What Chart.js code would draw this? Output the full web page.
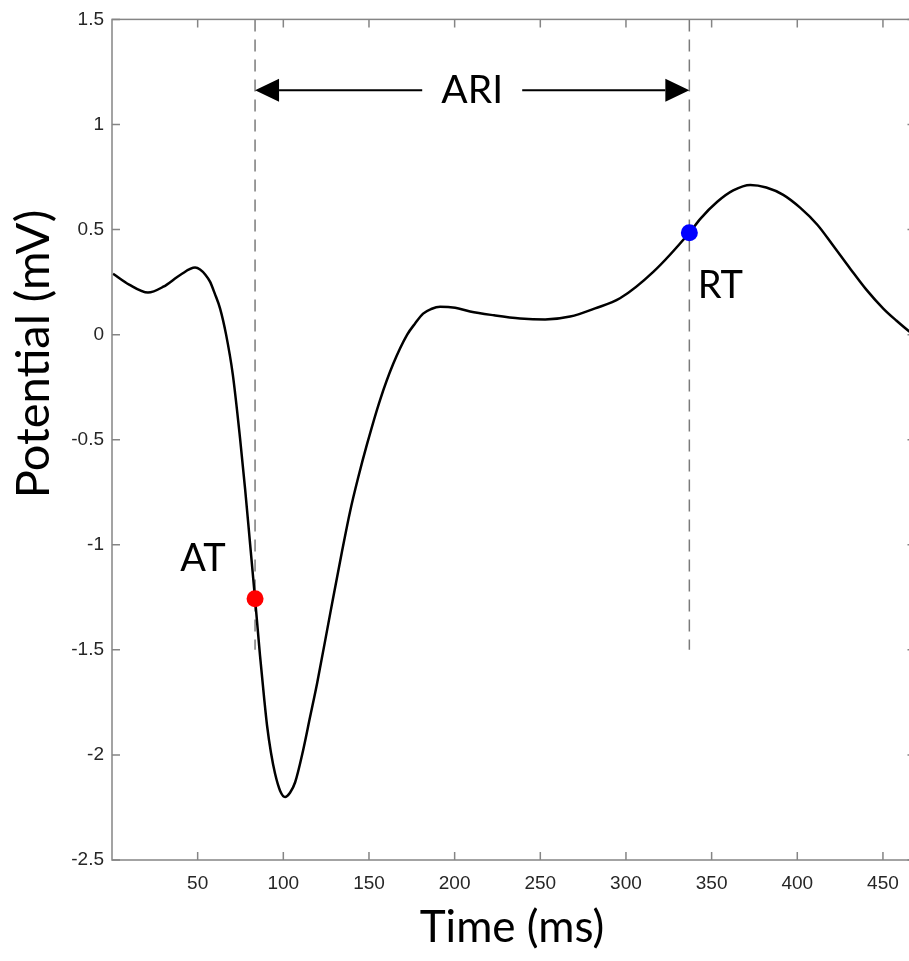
<!DOCTYPE html>
<html>
<head>
<meta charset="utf-8">
<script src="https://cdn.jsdelivr.net/npm/chart.js@4.4.1/dist/chart.umd.min.js"></script>
<style>
  html, body { margin: 0; padding: 0; background: #fff; overflow: hidden; }
  #wrap { width: 909px; height: 961px; overflow: hidden; }
  canvas { display: block; }
</style>
</head>
<body>
<div id="wrap"><canvas id="chart1" width="924" height="961"></canvas></div>
<script>
// unipolar electrogram, values
var timeMs = [0.6, 10, 21, 30, 40, 48.5, 51.4, 54.5, 57.2, 60, 63.1, 66.6, 70.5, 74.7, 77.7, 80.6, 83.5, 86.4, 88.8, 90.5, 92.8, 95.2, 98.1, 101, 103.9, 106.9, 111.5, 115.6, 119.7, 127.3, 134.3, 139, 143.7, 148.9, 156.5, 164.1, 172.3, 176.9, 181.6, 186.3, 191.5, 200.3, 209, 223, 238.2, 252.8, 267.4, 282, 296.5, 316.1, 337, 343.4, 353.3, 362.6, 372.6, 381.9, 391.8, 401.8, 411.7, 421, 430.9, 440.3, 450.2, 457.8, 465.4, 469];
var potential = [0.29, 0.238, 0.2, 0.228, 0.285, 0.319, 0.31, 0.285, 0.252, 0.195, 0.124, 0.0, -0.189, -0.49, -0.735, -0.996, -1.257, -1.527, -1.73, -1.86, -1.99, -2.09, -2.17, -2.2, -2.18, -2.13, -1.98, -1.82, -1.66, -1.33, -1.03, -0.84, -0.68, -0.52, -0.31, -0.14, 0.0, 0.053, 0.1, 0.122, 0.133, 0.128, 0.11, 0.092, 0.077, 0.072, 0.086, 0.125, 0.173, 0.3, 0.485, 0.551, 0.632, 0.686, 0.712, 0.7, 0.665, 0.603, 0.523, 0.423, 0.314, 0.214, 0.124, 0.067, 0.015, -0.005];

var xTicks = [50, 100, 150, 200, 250, 300, 350, 400, 450];
var yTicks = [-2.5, -2, -1.5, -1, -0.5, 0, 0.5, 1, 1.5];

var atTime = 83.5, atValue = -1.257;   // activation time
var rtTime = 337, rtValue = 0.485;     // repolarisation time
var dashTop = 1.5, dashBottom = -1.5;
var ariLevel = 1.163;

var axisGrey = '#858585';

// box round the plot + inward tick marks (matlab look)
var framePlugin = {
  id: 'frame',
  afterDraw: function(chart) {
    var ctx = chart.ctx, a = chart.chartArea;
    var xs = chart.scales.x, ys = chart.scales.y;
    ctx.save();
    ctx.strokeStyle = axisGrey;
    ctx.lineWidth = 1.5;
    ctx.strokeRect(a.left, a.top, a.right - a.left, a.bottom - a.top);
    ctx.beginPath();
    xTicks.forEach(function(v) {
      var px = xs.getPixelForValue(v);
      ctx.moveTo(px, a.bottom); ctx.lineTo(px, a.bottom - 8);
      ctx.moveTo(px, a.top); ctx.lineTo(px, a.top + 8);
    });
    yTicks.forEach(function(v) {
      var py = ys.getPixelForValue(v);
      ctx.moveTo(a.left, py); ctx.lineTo(a.left + 8, py);
      ctx.moveTo(a.right, py); ctx.lineTo(a.right - 8, py);
    });
    ctx.stroke();

    // axis titles
    ctx.fillStyle = '#000';
    ctx.textAlign = 'center';
    ctx.textBaseline = 'middle';
    ctx.font = '44px Lato';
    ctx.fillText('Time (ms)', 512, 928);
    ctx.font = '47px Lato';
    ctx.translate(34, 354);
    ctx.rotate(-Math.PI / 2);
    ctx.fillText('Potential (mV)', 0, 0);
    ctx.restore();
  }
};

// ARI arrow and AT / RT labels
var notePlugin = {
  id: 'notes',
  afterDatasetsDraw: function(chart) {
    var ctx = chart.ctx;
    var xs = chart.scales.x, ys = chart.scales.y;
    var x1 = xs.getPixelForValue(atTime), x2 = xs.getPixelForValue(rtTime);
    var y = ys.getPixelForValue(ariLevel);
    var mid = (x1 + x2) / 2, head = 24, half = 11.5, gap = 50;
    ctx.save();
    ctx.strokeStyle = '#000';
    ctx.fillStyle = '#000';
    ctx.lineWidth = 2;
    ctx.beginPath();
    ctx.moveTo(x1 + head, y); ctx.lineTo(mid - gap, y);
    ctx.moveTo(mid + gap, y); ctx.lineTo(x2 - head, y);
    ctx.stroke();
    ctx.beginPath();
    ctx.moveTo(x1, y); ctx.lineTo(x1 + head, y - half); ctx.lineTo(x1 + head, y + half); ctx.closePath();
    ctx.moveTo(x2, y); ctx.lineTo(x2 - head, y - half); ctx.lineTo(x2 - head, y + half); ctx.closePath();
    ctx.fill();

    ctx.font = '39px Lato';
    ctx.textAlign = 'center';
    ctx.textBaseline = 'middle';
    ctx.fillText('ARI', mid, y);
    ctx.font = '38px Lato';
    var ax = xs.getPixelForValue(atTime), ay = ys.getPixelForValue(atValue);
    ctx.fillText('AT', ax - 52, ay - 40);
    var rx = xs.getPixelForValue(rtTime), ry = ys.getPixelForValue(rtValue);
    ctx.fillText('RT', rx + 31, ry + 53);
    ctx.restore();
  }
};

var trace = timeMs.map(function(t, i) { return { x: t, y: potential[i] }; });

var ctx1 = document.getElementById('chart1').getContext('2d');
var chart1 = new Chart(ctx1, {
  type: 'scatter',
  data: {
    datasets: [
      {
        data: [{ x: atTime, y: atValue }],
        pointRadius: 8.5,
        pointBackgroundColor: '#ff0000',
        pointBorderWidth: 0,
        order: 0
      },
      {
        data: [{ x: rtTime, y: rtValue }],
        pointRadius: 8.5,
        pointBackgroundColor: '#0000ff',
        pointBorderWidth: 0,
        order: 0
      },
      {
        data: trace,
        showLine: true,
        borderColor: '#000',
        borderWidth: 2.5,
        pointRadius: 0,
        cubicInterpolationMode: 'monotone',
        order: 1
      },
      {
        data: [{ x: atTime, y: dashTop }, { x: atTime, y: dashBottom }],
        showLine: true,
        borderColor: '#7a7a7a',
        borderWidth: 1.5,
        borderDash: [12, 8],
        pointRadius: 0,
        order: 2
      },
      {
        data: [{ x: rtTime, y: dashTop }, { x: rtTime, y: dashBottom }],
        showLine: true,
        borderColor: '#7a7a7a',
        borderWidth: 1.5,
        borderDash: [12, 8],
        pointRadius: 0,
        order: 2
      }
    ]
  },
  options: {
    responsive: false,
    animation: false,
    layout: { padding: { top: 17, right: 3, left: 0, bottom: 0 } },
    plugins: {
      legend: { display: false },
      tooltip: { enabled: false }
    },
    scales: {
      x: {
        type: 'linear',
        min: 0,
        max: 469,
        grid: { display: false, drawTicks: false },
        border: { display: false },
        afterBuildTicks: function(s) { s.ticks = xTicks.map(function(v) { return { value: v }; }); },
        afterFit: function(s) { s.height = 101; },
        ticks: {
          color: '#262626',
          padding: 12,
          maxRotation: 0,
          autoSkip: false,
          font: { family: 'Liberation Sans', size: 19 },
          callback: function(v) { return String(v); }
        }
      },
      y: {
        min: -2.5,
        max: 1.5,
        grid: { display: false, drawTicks: false },
        border: { display: false },
        afterBuildTicks: function(s) { s.ticks = yTicks.map(function(v) { return { value: v }; }); },
        afterFit: function(s) { s.width = 112; },
        ticks: {
          color: '#262626',
          padding: 8,
          font: { family: 'Liberation Sans', size: 19 },
          callback: function(v) { return String(v); }
        }
      }
    }
  },
  plugins: [framePlugin, notePlugin]
});
</script>
</body>
</html>
